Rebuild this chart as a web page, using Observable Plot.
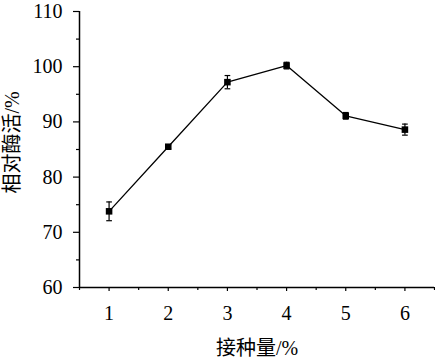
<!DOCTYPE html>
<html>
<head>
<meta charset="utf-8">
<script src="https://cdn.jsdelivr.net/npm/d3@7"></script>
<script src="https://cdn.jsdelivr.net/npm/@observablehq/plot@0.6"></script>
<style>
  html, body { margin: 0; padding: 0; background: #fff; }
  svg { display: block; }
  svg text { font-family: 'Liberation Serif', 'Noto Sans CJK SC', serif !important; font-variant: normal !important; font-variant-numeric: normal !important; }
</style>
</head>
<body>
<div id="chart"></div>
<script>
const doses = [1, 2, 3, 4, 5, 6];
const activity = [73.8, 85.5, 97.2, 100.2, 91.1, 88.6];
const errors = [1.7, 0.3, 1.2, 0.6, 0.6, 1.0];
const xTicks = [1, 2, 3, 4, 5, 6];
const xMinorTicks = [0.5, 1.5, 2.5, 3.5, 4.5, 5.5, 6.5];
const yTicks = [60, 70, 80, 90, 100, 110];
const yMinorTicks = [65, 75, 85, 95, 105];
const xLabel = "接种量/%";
const yLabel = "相对酶活/%";

const data = doses.map((d, i) => ({dose: d, value: activity[i], lo: activity[i] - errors[i], hi: activity[i] + errors[i]}));

const capSymbol = {
  draw(context, size) {
    const r = Math.sqrt(size) / 2;
    context.moveTo(-r, 0);
    context.lineTo(r, 0);
  }
};

const font = "Liberation Serif, Noto Sans CJK SC, serif";

const chart = Plot.plot({
  width: 435,
  height: 362,
  marginTop: 11,
  marginLeft: 79,
  marginRight: 1,
  marginBottom: 75,
  style: {fontFamily: font, fontSize: "20px", color: "#000", background: "#fff"},
  x: {domain: [0.5, 6.5]},
  y: {domain: [60, 110]},
  marks: [
    Plot.axisX({ticks: xTicks, tickSize: 4, tickPadding: 14, tickFormat: d => String(d), label: null, strokeWidth: 1.2, fontFamily: font, fontSize: 20, fontVariant: "normal"}),
    Plot.axisX({ticks: xMinorTicks, tickSize: 3, tickFormat: () => "", label: null, strokeWidth: 1.2}),
    Plot.axisY({ticks: yTicks, tickSize: 6, tickPadding: 11, tickFormat: d => String(d), label: null, strokeWidth: 1.2, fontFamily: font, fontSize: 20, fontVariant: "normal"}),
    Plot.axisY({ticks: yMinorTicks, tickSize: 3, tickFormat: () => "", label: null, strokeWidth: 1.2}),
    Plot.ruleY([60], {stroke: "#000", strokeWidth: 1.5}),
    Plot.ruleX([0.5], {stroke: "#000", strokeWidth: 1.5}),
    Plot.line(data, {x: "dose", y: "value", stroke: "#000", strokeWidth: 1.3}),
    Plot.ruleX(data, {x: "dose", y1: "lo", y2: "hi", stroke: "#000", strokeWidth: 1.2}),
    Plot.dot(data, {x: "dose", y: "lo", symbol: capSymbol, r: 3.2, stroke: "#000", fill: "none", strokeWidth: 1.2}),
    Plot.dot(data, {x: "dose", y: "hi", symbol: capSymbol, r: 3.2, stroke: "#000", fill: "none", strokeWidth: 1.2}),
    Plot.dot(data, {x: "dose", y: "value", symbol: "square", r: 3.7, fill: "#000", stroke: "none"}),
    Plot.text([xLabel], {frameAnchor: "bottom", dy: 61, lineAnchor: "middle", fontSize: 20, fill: "#000", fontFamily: font}),
    Plot.text([yLabel], {frameAnchor: "left", dx: -67, dy: -7, rotate: -90, lineAnchor: "middle", textAnchor: "middle", fontSize: 20, fill: "#000", fontFamily: font})
  ]
});
document.getElementById("chart").appendChild(chart);
</script>
</body>
</html>
